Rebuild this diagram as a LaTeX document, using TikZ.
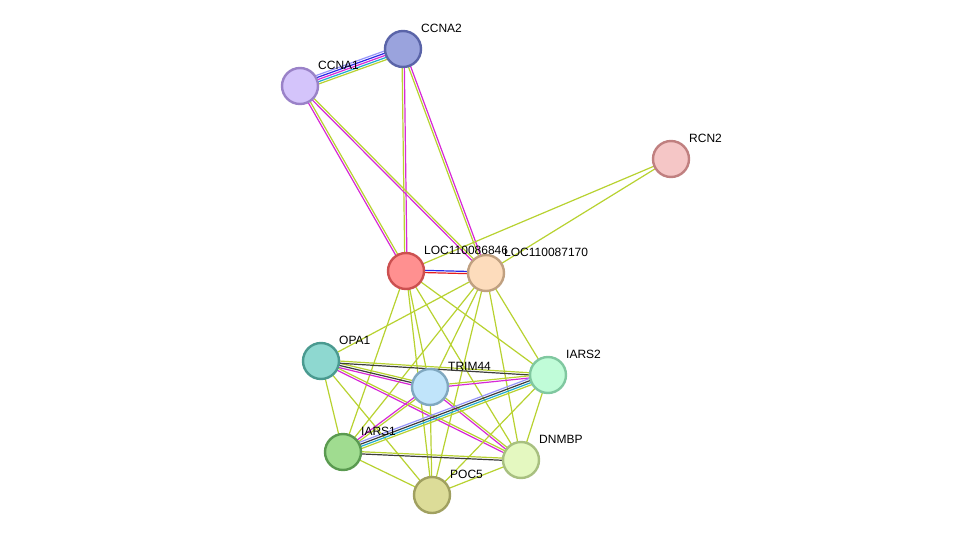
\documentclass[tikz,border=0pt]{standalone}
\usepackage{fontspec}
\setmainfont{Liberation Sans}
\usetikzlibrary{calc}
\definecolor{yg}{RGB}{184,210,48}
\definecolor{mg}{RGB}{215,40,215}
\definecolor{dk}{RGB}{60,60,60}
\definecolor{lb}{RGB}{150,150,250}
\definecolor{bl}{RGB}{40,40,230}
\definecolor{cy}{RGB}{30,170,210}
\definecolor{rd}{RGB}{230,30,30}
\newcommand{\myedge}[3]{%
  \foreach \c [count=\i] in {#3}{\xdef\nmax{\i}}%
  \foreach \c [count=\i] in {#3}{%
    \pgfmathsetmacro{\off}{(\i-(\nmax+1)/2)*2.2}%
    \draw[edge,\c] ($(#1)!\off pt!90:(#2)$) -- ($(#2)!\off pt!-90:(#1)$);}}
\begin{document}
\begin{tikzpicture}[x=1pt,y=-1pt,
  edge/.style={line width=1.2pt},
  prot/.style={circle,minimum size=36pt,inner sep=0pt,line width=2.4pt},
  lab/.style={anchor=west,font=\fontsize{12}{14}\selectfont,inner sep=0pt}]
\useasboundingbox[fill=white] (0,0) rectangle (975,541);
\coordinate (ccna2) at (403,49);
\coordinate (ccna1) at (300,86);
\coordinate (rcn2) at (671,159);
\coordinate (l1) at (406,271);
\coordinate (l2) at (486,273);
\coordinate (opa1) at (321,361);
\coordinate (trim) at (430,387);
\coordinate (iars2) at (548,375);
\coordinate (iars1) at (343,452);
\coordinate (dnmbp) at (521,460);
\coordinate (poc5) at (432,495);
% edges
\myedge{ccna1}{ccna2}{yg,cy,mg,bl,lb}
\myedge{ccna2}{l1}{yg,mg}
\myedge{ccna2}{l2}{yg,mg}
\myedge{ccna1}{l1}{mg,yg}
\myedge{ccna1}{l2}{mg,yg}
\myedge{l1}{l2}{rd,bl}
\myedge{rcn2}{l1}{yg}
\myedge{rcn2}{l2}{yg}
\foreach \t in {iars1,trim,poc5,dnmbp,iars2}{\myedge{l1}{\t}{yg}}
\foreach \t in {opa1,iars1,trim,poc5,dnmbp,iars2}{\myedge{l2}{\t}{yg}}
\myedge{opa1}{trim}{mg,dk,yg}
\myedge{opa1}{iars2}{dk,yg}
\myedge{opa1}{dnmbp}{mg,yg}
\myedge{opa1}{iars1}{yg}
\myedge{opa1}{poc5}{yg}
\myedge{trim}{iars2}{mg,yg}
\myedge{trim}{iars1}{mg,yg}
\myedge{trim}{dnmbp}{mg,yg}
\myedge{trim}{poc5}{yg}
\myedge{iars2}{iars1}{lb,dk,cy,yg}
\myedge{iars2}{dnmbp}{yg}
\myedge{iars2}{poc5}{yg}
\myedge{iars1}{dnmbp}{dk,yg}
\myedge{iars1}{poc5}{yg}
\myedge{dnmbp}{poc5}{yg}
% nodes
\node[prot,fill={rgb,255:red,154;green,163;blue,221},draw={rgb,255:red,90;green,100;blue,168}] (nccna2) at (ccna2) {};
\node[prot,fill={rgb,255:red,212;green,196;blue,251},draw={rgb,255:red,154;green,130;blue,200}] (nccna1) at (ccna1) {};
\node[prot,fill={rgb,255:red,245;green,198;blue,198},draw={rgb,255:red,192;green,128;blue,128}] (nrcn2) at (rcn2) {};
\node[prot,fill={rgb,255:red,255;green,144;blue,144},draw={rgb,255:red,204;green,80;blue,80}] (nl1) at (l1) {};
\node[prot,fill={rgb,255:red,253;green,220;blue,188},draw={rgb,255:red,192;green,160;blue,128}] (nl2) at (l2) {};
\node[prot,fill={rgb,255:red,142;green,216;blue,208},draw={rgb,255:red,74;green,154;blue,144}] (nopa1) at (opa1) {};
\node[prot,fill={rgb,255:red,192;green,228;blue,250},draw={rgb,255:red,128;green,168;blue,192}] (ntrim) at (trim) {};
\node[prot,fill={rgb,255:red,192;green,252;blue,216},draw={rgb,255:red,128;green,200;blue,160}] (niars2) at (iars2) {};
\node[prot,fill={rgb,255:red,160;green,220;blue,144},draw={rgb,255:red,90;green,154;blue,80}] (niars1) at (iars1) {};
\node[prot,fill={rgb,255:red,228;green,248;blue,192},draw={rgb,255:red,168;green,192;blue,128}] (ndnmbp) at (dnmbp) {};
\node[prot,fill={rgb,255:red,220;green,220;blue,152},draw={rgb,255:red,160;green,160;blue,96}] (npoc5) at (poc5) {};
% labels
\node[lab] (tccna2) at (421,28) {CCNA2};
\node[lab] (tccna1) at (318,65) {CCNA1};
\node[lab] (trcn2) at (689,138) {RCN2};
\node[lab] (tl1) at (424,250) {LOC110086846};
\node[lab] (tl2) at (504,252) {LOC110087170};
\node[lab] (topa1) at (339,340) {OPA1};
\node[lab] (ttrim) at (448,366) {TRIM44};
\node[lab] (tiars2) at (566,354) {IARS2};
\node[lab] (tiars1) at (361,431) {IARS1};
\node[lab] (tdnmbp) at (539,439) {DNMBP};
\node[lab] (tpoc5) at (450,474) {POC5};
\end{tikzpicture}
\end{document}
